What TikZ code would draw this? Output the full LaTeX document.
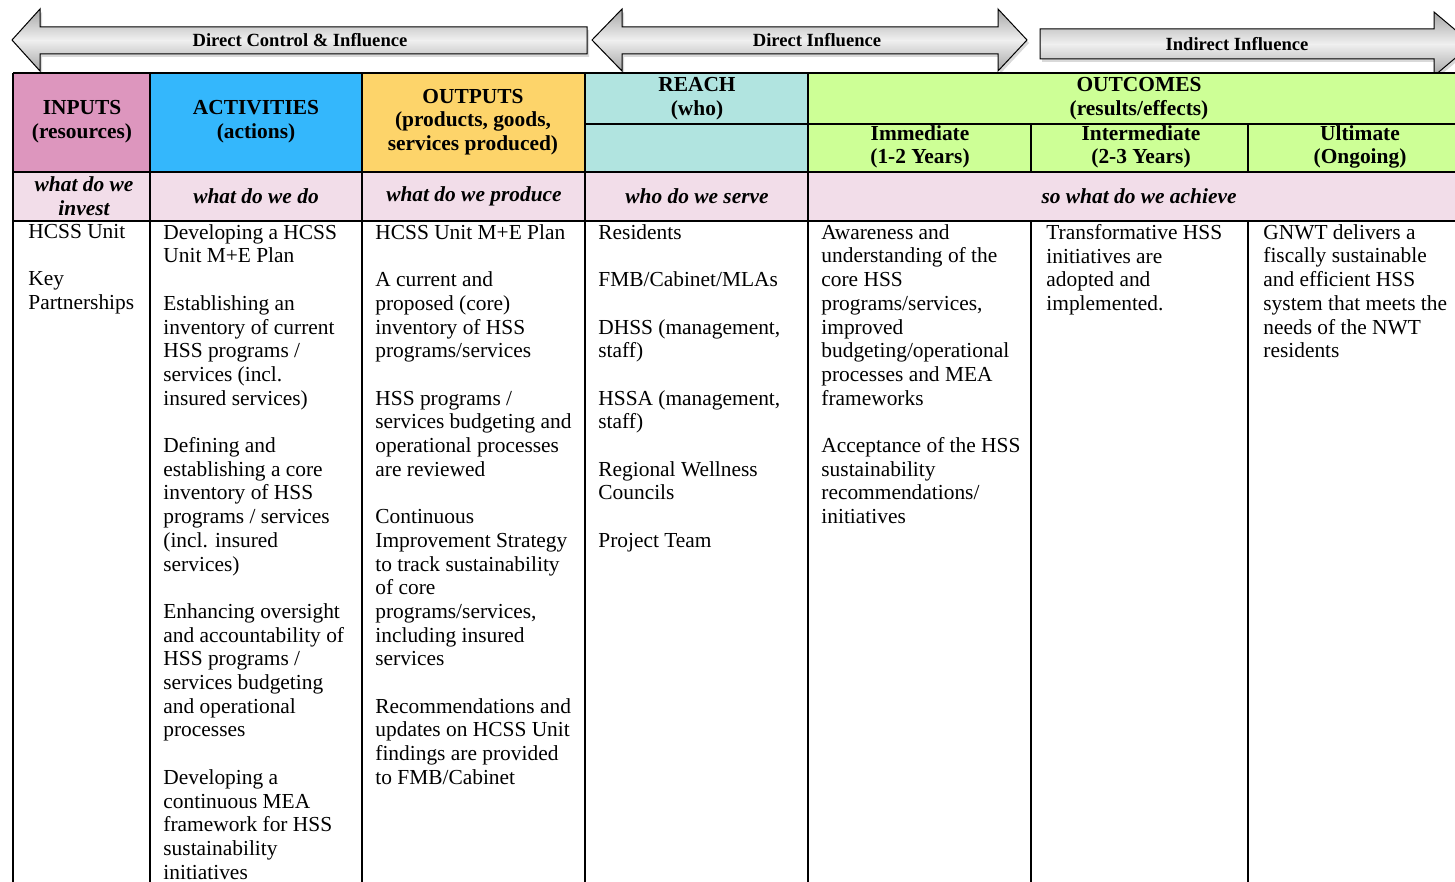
\documentclass[tikz,border=0pt]{standalone}
\usepackage{fontspec}
\setmainfont{Liberation Serif}
\usetikzlibrary{shadows}

\definecolor{inpink}{RGB}{221,150,190}
\definecolor{actblue}{RGB}{52,183,252}
\definecolor{outyellow}{RGB}{253,212,106}
\definecolor{reachteal}{RGB}{177,228,224}
\definecolor{outcgreen}{RGB}{205,255,150}
\definecolor{askpink}{RGB}{242,221,233}

\newcommand{\cellgap}{\\[11.85pt]}

\begin{document}
\begin{tikzpicture}[x=0.5pt, y=-0.5pt,
  band/.style={draw=black, line width=0.5pt, top color=gray!70, bottom color=gray!70,
    middle color=gray!12, drop shadow={shadow xshift=1pt, shadow yshift=-1.5pt, opacity=0.3}},
  tag/.style={inner sep=0pt, font=\bfseries\fontsize{9.3}{11}\selectfont},
  rule/.style={line width=0.8pt},
  head/.style={align=center, inner sep=0pt, font=\bfseries\fontsize{10.7}{11.85}\selectfont},
  ask/.style={align=center, inner sep=0pt, font=\bfseries\itshape\fontsize{10.7}{11.85}\selectfont},
  cell/.style={anchor=north west, align=left, inner sep=0pt, font=\fontsize{10.7}{11.85}\selectfont}]
  \useasboundingbox (0,0) rectangle (1455,882);
  \clip (0,0) rectangle (1455,882);

  % influence arrows
  \draw[band] (12,40) -- (40,9) -- (40,27) -- (587,27) -- (587,54) -- (40,54) -- (40,71) -- cycle;
  \draw[band] (592,40) -- (622,9) -- (622,27) -- (998,27) -- (998,9) -- (1027,40)
    -- (998,71) -- (998,54) -- (622,54) -- (622,71) -- cycle;
  \draw[band] (1040,29) -- (1434,29) -- (1434,12) -- (1472,44) -- (1434,76) -- (1434,59) -- (1040,59) -- cycle;
  \node (ctrl) at (300,40)[tag]{Direct Control \& Influence};
  \node (direct) at (817,40)[tag]{Direct Influence};
  \node (indirect) at (1237,44)[tag]{Indirect Influence};

  % header fills
  \fill[inpink] (13,73) rectangle (150,172);
  \fill[actblue] (150,73) rectangle (362,172);
  \fill[outyellow] (362,73) rectangle (585,172);
  \fill[reachteal] (585,73) rectangle (808,172);
  \fill[outcgreen] (808,73) rectangle (1471,172);
  \fill[askpink] (13,172) rectangle (1471,221);

  % grid
  \draw[rule] (13,73) -- (1471,73);
  \draw[rule] (585,124) -- (1471,124);
  \draw[rule] (13,172) -- (1471,172);
  \draw[rule] (13,221) -- (1471,221);
  \foreach \x in {13,150,362,585,808,1471}
    \draw[rule] (\x,73) -- (\x,890);
  \foreach \x in {1031,1248} {
    \draw[rule] (\x,124) -- (\x,172);
    \draw[rule] (\x,221) -- (\x,890);
  }

  \node (inputs) at (82,122)[head]{INPUTS\\(resources)};
  \node (activities) at (256,122)[head]{ACTIVITIES\\(actions)};
  \node (outputs) at (473,122)[head]{OUTPUTS\\(products, goods,\\services produced)};
  \node (reach) at (697,99)[head]{REACH\\(who)};
  \node (outcomes) at (1139,99)[head]{OUTCOMES\\(results/effects)};
  \node (immediate) at (920,147)[head]{Immediate\\(1-2 Years)};
  \node (intermediate) at (1141,147)[head]{Intermediate\\(2-3 Years)};
  \node (ultimate) at (1360,147)[head]{Ultimate\\(Ongoing)};

  \node (askinvest) at (84,196)[ask]{what do we\\invest};
  \node (askdo) at (256,196)[ask]{what do we do};
  \node (askproduce) at (474,196)[ask]{what do we produce};
  \node (askserve) at (697,196)[ask]{who do we serve};
  \node (askachieve) at (1139,196)[ask]{so what do we achieve};

  \node (inputlist) at (28,224)[cell]{HCSS Unit\cellgap Key\\Partnerships};
  \node (activitylist) at (163,224)[cell]{Developing a HCSS\\Unit M+E Plan\cellgap
    Establishing an\\inventory of current\\HSS programs /\\services (incl.\\insured services)\cellgap
    Defining and\\establishing a core\\inventory of HSS\\programs / services\\(incl. insured\\services)\cellgap
    Enhancing oversight\\and accountability of\\HSS programs /\\services budgeting\\and operational\\processes\cellgap
    Developing a\\continuous MEA\\framework for HSS\\sustainability\\initiatives};
  \node (outputlist) at (375,224)[cell]{HCSS Unit M+E Plan\cellgap
    A current and\\proposed (core)\\inventory of HSS\\programs/services\cellgap
    HSS programs /\\services budgeting and\\operational processes\\are reviewed\cellgap
    Continuous\\Improvement Strategy\\to track sustainability\\of core\\programs/services,\\including insured\\services\cellgap
    Recommendations and\\updates on HCSS Unit\\findings are provided\\to FMB/Cabinet};
  \node (reachlist) at (598,224)[cell]{Residents\cellgap FMB/Cabinet/MLAs\cellgap
    DHSS (management,\\staff)\cellgap HSSA (management,\\staff)\cellgap
    Regional Wellness\\Councils\cellgap Project Team};
  \node (immlist) at (821,224)[cell]{Awareness and\\understanding of the\\core HSS\\programs/services,\\improved\\budgeting/operational\\processes and MEA\\frameworks\cellgap
    Acceptance of the HSS\\sustainability\\recommendations/\\initiatives};
  \node (intlist) at (1046,224)[cell]{Transformative HSS\\initiatives are\\adopted and\\implemented.};
  \node (ultlist) at (1263,224)[cell]{GNWT delivers a\\fiscally sustainable\\and efficient HSS\\system that meets the\\needs of the NWT\\residents};
\end{tikzpicture}
\end{document}
